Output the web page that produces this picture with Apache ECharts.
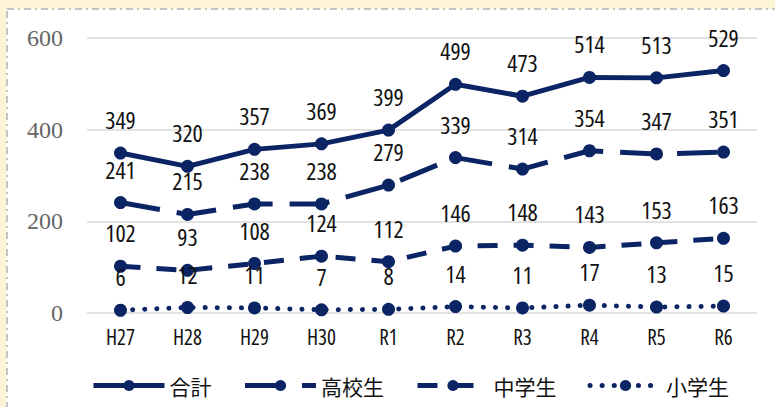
<!DOCTYPE html>
<html><head><meta charset="utf-8">
<script src="https://cdn.jsdelivr.net/npm/echarts@6/dist/echarts.min.js"></script>
<style>html,body{margin:0;padding:0;background:#FCF4D4;}#c{width:775px;height:407px;}
svg text[style*="Open Sans"]{font-stretch:condensed;}
</style>
</head><body><div id="c"></div>
<script>
const categories = ['H27','H28','H29','H30','R1','R2','R3','R4','R5','R6'];
const totalValues = [349,320,357,369,399,499,473,514,513,529];
const highValues = [241,215,238,238,279,339,314,354,347,351];
const middleValues = [102,93,108,124,112,146,148,143,153,163];
const elementaryValues = [6,12,11,7,8,14,11,17,13,15];
const seriesNames = ['合計','高校生','中学生','小学生'];
const yTicks = [0,200,400,600];

const navy = '#0B2463';
const labelFont = 'Open Sans';

function mk(name, data, dash, cap) {
  return {
    name, type: 'line', data,
    symbol: 'circle', symbolSize: 13,
    itemStyle: { color: navy },
    lineStyle: { color: navy, width: 5, type: dash, cap: cap || 'butt' },
    label: { show: true, position: 'top', distance: 15, color: '#111', fontSize: 24, fontFamily: labelFont },
    z: 3
  };
}

const chart = echarts.init(document.getElementById('c'), null, { renderer: 'svg' });
chart.setOption({
  animation: false,
  backgroundColor: '#FCF4D4',
  graphic: [{
    type: 'rect', z: -10, silent: true,
    shape: { x: 7, y: 9, width: 800, height: 420 },
    style: { fill: '#ffffff', stroke: '#C4C4C4', lineWidth: 2, lineDash: [7,4,2,4] }
  }],
  grid: { left: 87, right: 18, top: 38, bottom: 94 },
  xAxis: {
    type: 'category', data: categories, boundaryGap: true,
    axisLine: { show: false }, axisTick: { show: false },
    axisLabel: { color: '#111', fontSize: 21, fontFamily: labelFont, margin: 13 }
  },
  yAxis: {
    type: 'value', min: yTicks[0], max: yTicks[yTicks.length-1], interval: 200,
    axisLine: { show: false }, axisTick: { show: false },
    axisLabel: { color: '#666', fontSize: 24, fontFamily: 'Liberation Serif', margin: 24 },
    splitLine: { lineStyle: { color: '#D9D9D9', width: 1.5 } }
  },
  legend: {
    left: 86, top: 370, itemWidth: 71, itemHeight: 14, itemGap: 31,
    data: seriesNames,
    lineStyle: { width: 5 },
    textStyle: { color: '#111', fontSize: 21, fontFamily: 'Noto Sans CJK JP' }
  },
  series: [
    mk(seriesNames[0], totalValues, 'solid'),
    mk(seriesNames[1], highValues, [40,17]),
    mk(seriesNames[2], middleValues, [20,16]),
    mk(seriesNames[3], elementaryValues, [0.1,12], 'round')
  ]
});
</script></body></html>
